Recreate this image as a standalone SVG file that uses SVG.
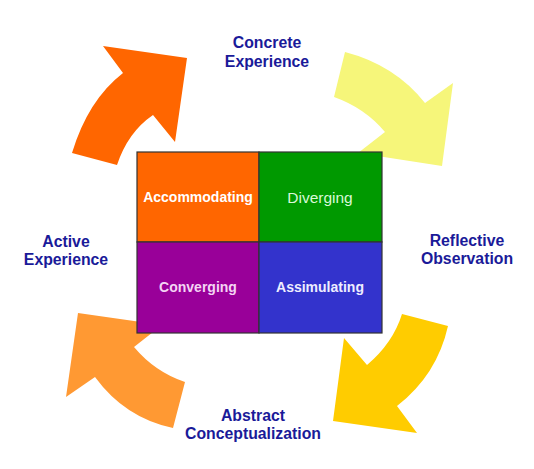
<svg xmlns="http://www.w3.org/2000/svg" width="534" height="469" viewBox="0 0 534 469">
<style>
.lbl{font-family:"Liberation Sans",Arial,sans-serif;font-weight:bold;font-size:15.8px;fill:#1a1a99;text-anchor:middle}
.cell{stroke:#333;stroke-width:1.2}
.ct{font-family:"Liberation Sans",Arial,sans-serif;font-size:14px;text-anchor:middle}
.dv{font-size:15.5px}
</style>
<rect width="534" height="469" fill="#fff"/>
<g id="arrows">
<path id="arrow-tl" d="M72,153 Q88,100 123,73 L103,46 L187,58 L175,142 L153,115 Q128,132 117,165 Z" fill="#FF6600"/>
<path id="arrow-tr" d="M345,52 Q395,65 425,103 L453,83 L442,166 L358,153 L385,132 Q365,108 334,97 Z" fill="#F6F67A"/>
<path id="arrow-br" d="M448,326 Q437,375 397,406 L417,433 L333,421 L344,338 L367,365 Q393,343 402,314 Z" fill="#FFCC00"/>
<path id="arrow-bl" d="M173,428 Q125,418 95,377 L66,397 L78,313 L162,325 L134,347 Q155,372 185,382 Z" fill="#FF9933"/>
</g>
<g id="cell-accommodating">
<rect class="cell" x="137" y="152" width="122" height="90" fill="#FF6600"/>
<text class="ct" x="198" y="202" font-weight="bold" fill="#ffffff">Accommodating</text>
</g>
<g id="cell-diverging">
<rect class="cell" x="259" y="152" width="123" height="90" fill="#009900"/>
<text class="ct dv" x="320" y="203" fill="#d8f8d8">Diverging</text>
</g>
<g id="cell-converging">
<rect class="cell" x="137" y="242" width="122" height="91" fill="#990099"/>
<text class="ct" x="198" y="292" font-weight="bold" fill="#f4d4f4">Converging</text>
</g>
<g id="cell-assimulating">
<rect class="cell" x="259" y="242" width="123" height="91" fill="#3333CC"/>
<text class="ct" x="320" y="292" font-weight="bold" fill="#eeeeff">Assimulating</text>
</g>
<g id="label-concrete"><text class="lbl" x="267" y="48">Concrete</text><text class="lbl" x="267" y="67">Experience</text></g>
<g id="label-reflective"><text class="lbl" x="467" y="246">Reflective</text><text class="lbl" x="467" y="264">Observation</text></g>
<g id="label-abstract"><text class="lbl" x="253" y="421">Abstract</text><text class="lbl" x="253" y="439">Conceptualization</text></g>
<g id="label-active"><text class="lbl" x="66" y="247">Active</text><text class="lbl" x="66" y="265">Experience</text></g>
</svg>
